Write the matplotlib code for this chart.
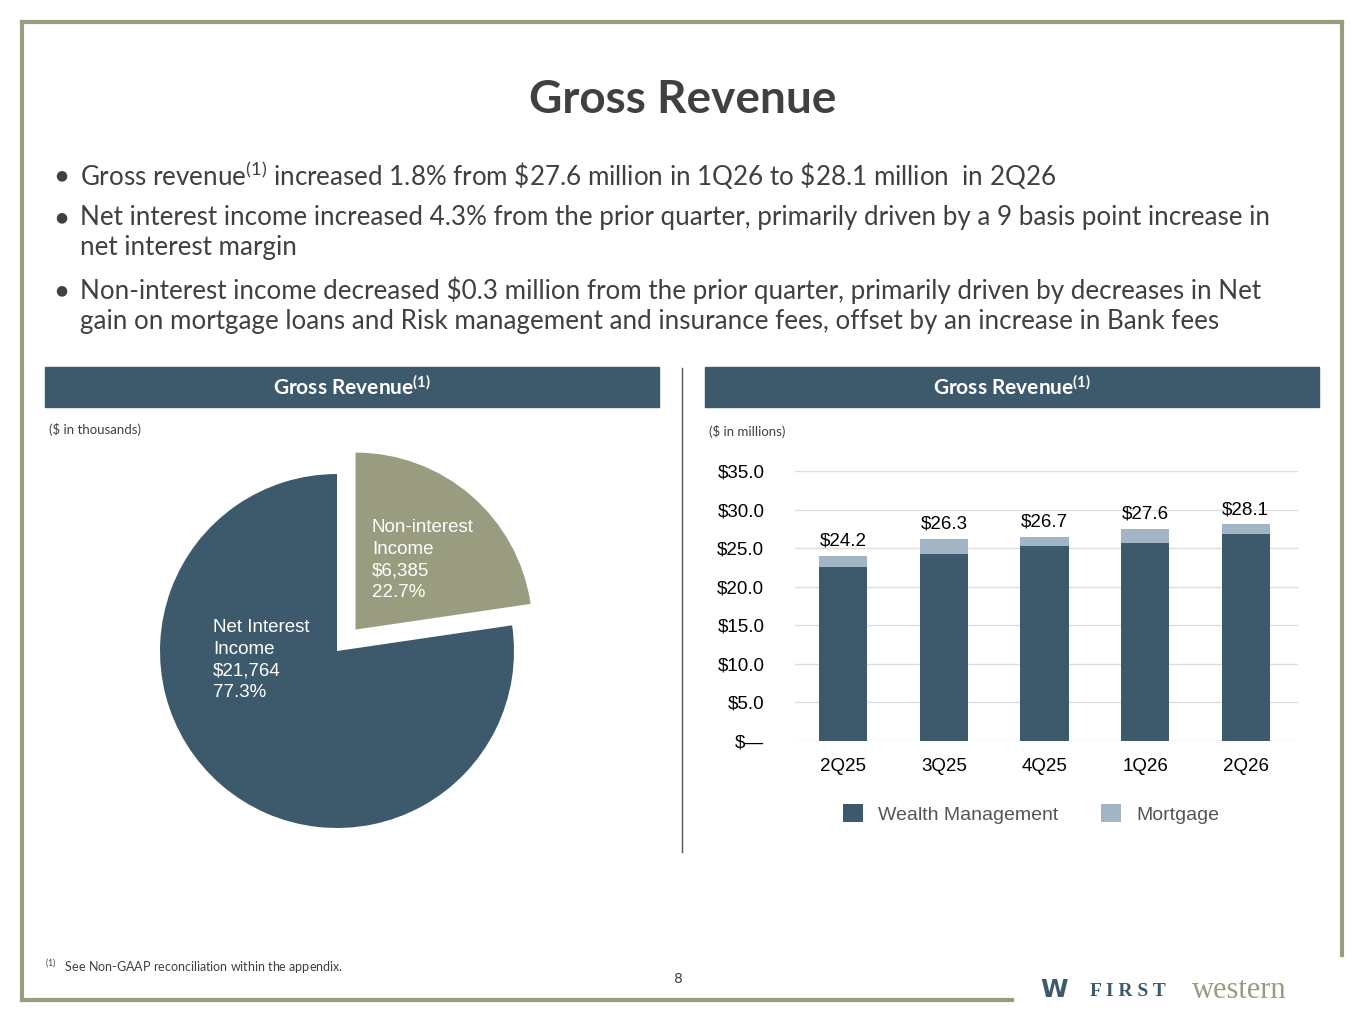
import matplotlib
matplotlib.use("Agg")
import matplotlib.pyplot as plt
from matplotlib.patches import Rectangle
from matplotlib.lines import Line2D

plt.rcParams["mathtext.fontset"] = "custom"
plt.rcParams["mathtext.rm"] = "Lato"
plt.rcParams["mathtext.it"] = "Lato"
plt.rcParams["mathtext.bf"] = "Lato:bold"

# data
pie_labels = ["Non-interest\nIncome\n$6,385\n22.7%", "Net Interest\nIncome\n$21,764\n77.3%"]
pie_values = [6385, 21764]
quarters = ["2Q25", "3Q25", "4Q25", "1Q26", "2Q26"]
wealth = [22.5, 24.3, 25.3, 25.7, 26.8]
mortgage = [1.5, 1.9, 1.2, 1.8, 1.3]
totals = ["$24.2", "$26.3", "$26.7", "$27.6", "$28.1"]
yticks = [0, 5, 10, 15, 20, 25, 30, 35]
ytick_labels = ["$—", "$5.0", "$10.0", "$15.0", "$20.0", "$25.0", "$30.0", "$35.0"]

DARK = "#3D5A6C"
LIGHT = "#A3B5C5"
OLIVE = "#9A9C80"
TXT = "#404040"
SANS = "Liberation Sans"
W, H = 1365, 1024

fig = plt.figure(figsize=(13.65, 10.24), dpi=100)

def fx(x): return x / W
def fy(y): return 1 - y / H

# frame
for xs, ys in [((22, 1342), (22, 22)), ((22, 22), (22, 1000)), ((22, 1012), (1000, 1000)), ((1342, 1342), (22, 955))]:
    fig.add_artist(Line2D([fx(xs[0]), fx(xs[1])], [fy(ys[0]), fy(ys[1])], color=OLIVE, lw=3))

fig.text(0.5, fy(100), "Gross Revenue", ha="center", va="center", fontsize=33, fontweight="bold",
         family="Lato", color=TXT)

bullets = [
    (175, r"Gross revenue$^{(1)}$ increased 1.8% from \$27.6 million in 1Q26 to \$28.1 million  in 2Q26"),
    (217, "Net interest income increased 4.3% from the prior quarter, primarily driven by a 9 basis point increase in"),
    (248, "net interest margin"),
    (290, "Non-interest income decreased $0.3 million from the prior quarter, primarily driven by decreases in Net"),
    (321, "gain on mortgage loans and Risk management and insurance fees, offset by an increase in Bank fees"),
]
for y, t in bullets:
    fig.text(fx(80), fy(y), t, ha="left", va="center", fontsize=18.7, family="Lato", color=TXT)
for y in (175, 217, 290):
    fig.text(fx(55), fy(y), "●", ha="left", va="center", fontsize=10, color=TXT)

# header bars
for x0, x1 in [(45, 659), (705, 1319)]:
    fig.add_artist(Rectangle((fx(x0), fy(407)), fx(x1 - x0), 40 / H, color=DARK, transform=fig.transFigure))
    fig.text(fx((x0 + x1) / 2), fy(387), r"Gross Revenue$^{\mathbf{(1)}}$", ha="center", va="center",
             fontsize=15, fontweight="bold", family="Lato", color="white")
fig.add_artist(Line2D([fx(682), fx(682)], [fy(368), fy(852)], color="#555555", lw=1))
fig.text(fx(49), fy(430), "($ in thousands)", fontsize=9.5, family="Lato", color=TXT, va="center")
fig.text(fx(709), fy(431), "($ in millions)", fontsize=9.5, family="Lato", color=TXT, va="center")

# pie
axp = fig.add_axes([fx(337 - 200), fy(651 + 200), 400 / W, 400 / H])
axp.pie(pie_values, colors=[OLIVE, DARK], startangle=90, counterclock=False,
        explode=[0.16, 0], radius=1)
axp.set_xlim(-1.13, 1.13)
axp.set_ylim(-1.13, 1.13)
axp.set_aspect("equal")
fig.text(fx(372), fy(560), pie_labels[0], fontsize=13.5, family=SANS, color="white", va="center", linespacing=1.35)
fig.text(fx(213), fy(660), pie_labels[1], fontsize=13.5, family=SANS, color="white", va="center", linespacing=1.35)

# bars
axb = fig.add_axes([fx(795), fy(741), 503 / W, 270 / H])
x = range(len(quarters))
axb.bar(x, wealth, width=0.48, color=DARK, zorder=3, label="Wealth Management")
axb.bar(x, mortgage, bottom=wealth, width=0.48, color=LIGHT, zorder=3, label="Mortgage")
for i, t in enumerate(totals):
    axb.text(i, wealth[i] + mortgage[i] + 0.8, t, ha="center", va="bottom", fontsize=13.5,
             family=SANS, color="black")
axb.set_xlim(-0.48, 4.52)
axb.set_ylim(0, 35)
axb.set_yticks(yticks)
axb.set_yticklabels(ytick_labels, fontsize=13.5, family=SANS)
axb.set_xticks(list(x))
axb.set_xticklabels(quarters, fontsize=13.5, family=SANS)
axb.grid(axis="y", color="#DDDDDD", lw=1, zorder=0)
for s in axb.spines.values():
    s.set_visible(False)
axb.tick_params(length=0, pad=12)
axb.tick_params(axis="y", pad=22)
axb.legend(loc="upper center", bbox_to_anchor=(0.47, -0.17), ncol=2, frameon=False,
           prop={"family": SANS, "size": 14}, handlelength=1.0, handleheight=1.0,
           columnspacing=2.2, labelcolor="#555555")

fig.text(fx(45), fy(967), r"$^{(1)}$   See Non-GAAP reconciliation within the appendix.", fontsize=9,
         family="Lato", color=TXT, va="center")
fig.text(fx(678), fy(979), "8", fontsize=10, color=TXT, ha="center", va="center")
fig.text(fx(1040), fy(990), "W", fontsize=18, color=DARK, fontweight="bold", va="center")
fig.text(fx(1090), fy(992), "F I R S T", fontsize=14, color=DARK, family="Liberation Serif",
         fontweight="bold", va="center")
fig.text(fx(1192), fy(990), "western", fontsize=22, color=OLIVE, family="Liberation Serif", va="center")

fig.savefig("out.png", dpi=100)
